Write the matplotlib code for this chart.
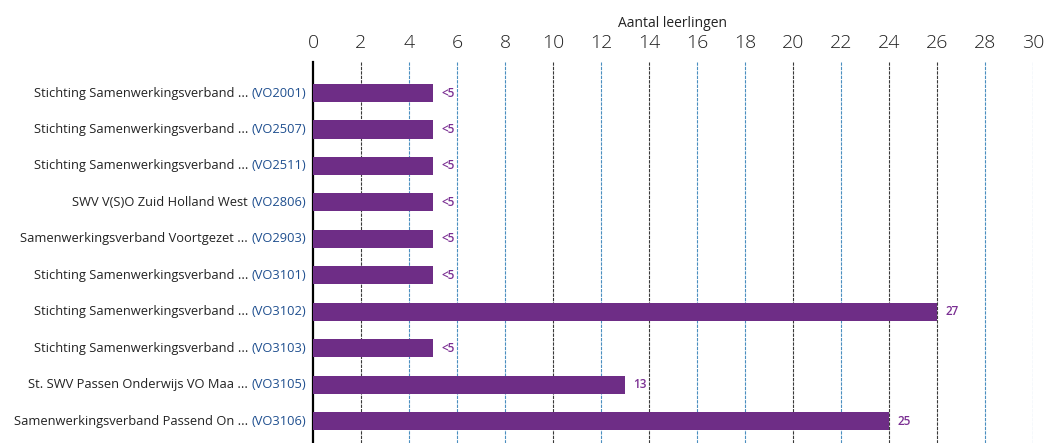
import matplotlib.pyplot as plt
import numpy as np

plt.rcParams['font.family'] = ['Open Sans', 'DejaVu Sans']

# Data
names = [
    'Stichting Samenwerkingsverband ...',
    'Stichting Samenwerkingsverband ...',
    'Stichting Samenwerkingsverband ...',
    'SWV V(S)O Zuid Holland West',
    'Samenwerkingsverband Voortgezet ...',
    'Stichting Samenwerkingsverband ...',
    'Stichting Samenwerkingsverband ...',
    'Stichting Samenwerkingsverband ...',
    'St. SWV Passen Onderwijs VO Maa ...',
    'Samenwerkingsverband Passend On ...',
]
codes = ['(VO2001)', '(VO2507)', '(VO2511)', '(VO2806)', '(VO2903)',
         '(VO3101)', '(VO3102)', '(VO3103)', '(VO3105)', '(VO3106)']
bar_lengths = [5, 5, 5, 5, 5, 5, 26, 5, 13, 24]
value_labels = ['<5', '<5', '<5', '<5', '<5', '<5', '27', '<5', '13', '25']
xticks = list(range(0, 31, 2))

purple = '#6e2d86'
label_purple = '#7a2e92'
code_blue = '#1f4f8f'
grid_cols = ['#3a3a3a', '#4a8fc0', '#4a8fc0', '#4a8fc0', '#3a3a3a', '#4a8fc0',
             '#3a3a3a', '#4a8fc0', '#4a8fc0', '#3a3a3a', '#4a8fc0', '#3a3a3a',
             '#3a3a3a', '#4a8fc0', '#4a8fc0']

fig = plt.figure(figsize=(10.46, 4.43), dpi=100)
ax = fig.add_axes([0.2992, 0.0, 0.9876 - 0.2992, 0.860])

y = np.arange(len(names))
ax.barh(y, bar_lengths, height=0.5, color=purple, zorder=3)

for xv, c in zip(xticks[1:], grid_cols):
    ax.axvline(xv, color=c, linewidth=0.8, linestyle=(0, (3, 1)), zorder=1)

ax.set_xlim(0, 30)
ax.set_ylim(9.6, -0.85)
ax.xaxis.tick_top()
ax.xaxis.set_label_position('top')
ax.set_xticks(xticks)
ax.tick_params(axis='x', length=0, pad=7, labelsize=14, labelcolor='#222222')
for lbl in ax.get_xticklabels():
    lbl.set_fontweight('light')
ax.set_xlabel('Aantal leerlingen', fontsize=10, labelpad=5, color='#222222')
ax.set_yticks([])

for s in ['top', 'right', 'bottom']:
    ax.spines[s].set_visible(False)
ax.spines['left'].set_linewidth(1.6)
ax.spines['left'].set_color('black')

# two-colour y labels: name in dark grey, code in blue
for yi, nm, cd in zip(y, names, codes):
    t = ax.annotate(cd, xy=(0, yi), xycoords='data', xytext=(-5, 0),
                    textcoords='offset points', ha='right', va='center',
                    fontsize=9.3, color=code_blue)
    ax.annotate(nm + ' ', xy=(0, 0.5), xycoords=t, ha='right', va='center',
                fontsize=9.3, color='#222222')

for yi, v, lab in zip(y, bar_lengths, value_labels):
    ax.annotate(lab, xy=(v, yi), xytext=(6, 0), textcoords='offset points',
                ha='left', va='center', fontsize=8.5, color=label_purple,
                fontweight='semibold')

fig.savefig('out.png', dpi=100)
